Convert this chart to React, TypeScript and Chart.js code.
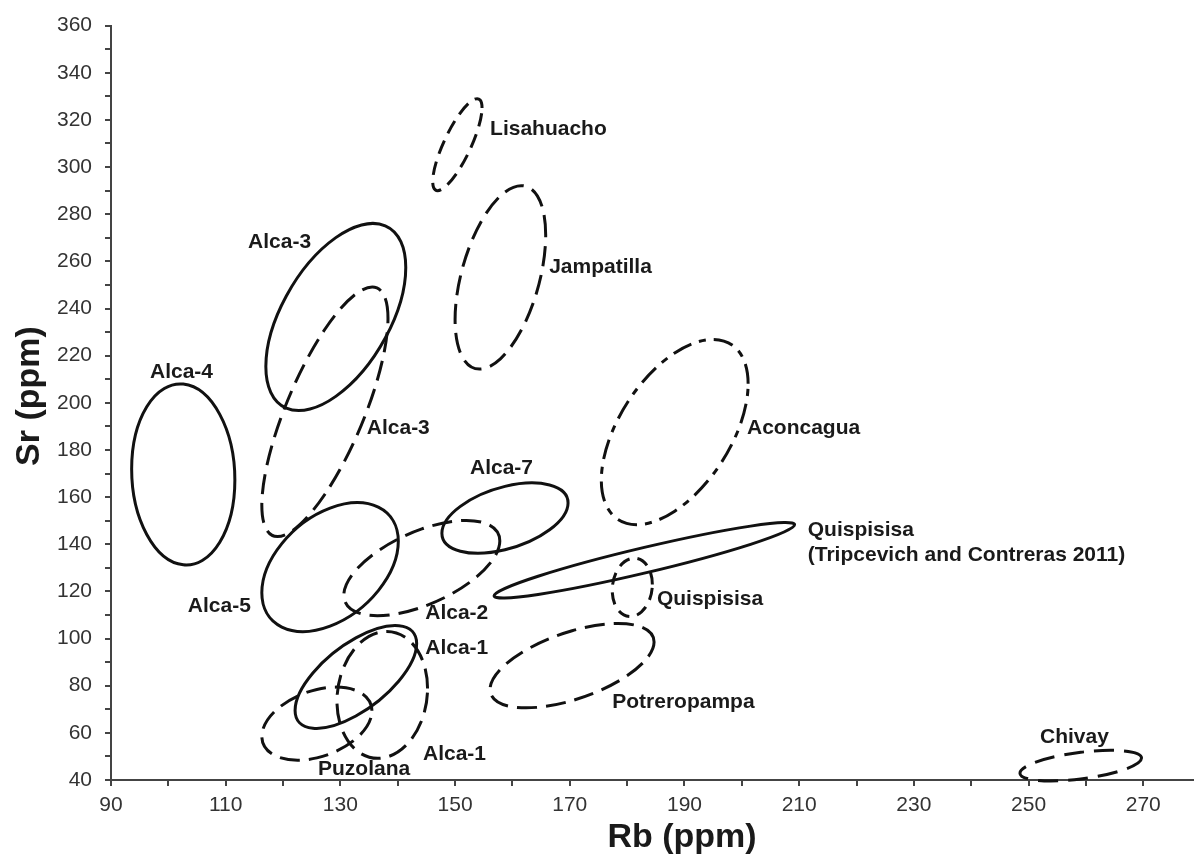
import React, { useEffect, useRef } from "react";
import { Chart, registerables } from "chart.js";

Chart.register(...registerables);

// ---- Ellipse data (Rb / Sr, ppm): centre, half-extent along each axis, correlation ----
const ellipseNames = [
  "Alca-4", "Alca-3 (solid)", "Alca-3 (dashed)", "Alca-5", "Alca-2", "Alca-7",
  "Quispisisa (T&C 2011)", "Quispisisa", "Potreropampa", "Alca-1 (solid)",
  "Alca-1 (dashed)", "Puzolana", "Lisahuacho", "Jampatilla", "Aconcagua", "Chivay",
];
const centerRb = [102.6, 129.2, 127.3, 128.2, 144.2, 158.7, 183.0, 180.9, 170.4, 132.7, 137.3, 125.9, 150.4, 157.9, 188.3, 259.1];
const centerSr = [169.6, 236.4, 196.2, 130.3, 129.9, 151.1, 133.2, 121.7, 88.5, 83.7, 76.1, 63.9, 309.5, 253.2, 187.6, 46.1];
const halfRb = [9.0, 12.2, 11.0, 11.9, 13.6, 11.0, 26.2, 3.5, 14.3, 10.6, 7.9, 9.6, 4.3, 7.9, 12.8, 10.6];
const halfSr = [38.4, 39.7, 52.9, 27.3, 20.2, 14.9, 16.0, 12.4, 17.9, 21.8, 26.9, 15.5, 19.5, 38.9, 39.3, 6.5];
const correlation = [-0.06, 0.53, 0.75, 0.4, 0.57, 0.43, 0.94, 0.1, 0.56, 0.65, 0.1, 0.35, 0.8, 0.46, 0.52, 0.49];

// line style per ellipse (kept separate from values)
const ellipseDash: number[][] = [
  [], [], [20, 9], [], [20, 9], [], [], [12, 8], [20, 9], [], [20, 9], [20, 9], [14, 8], [20, 9], [20, 8, 7, 8], [20, 10],
];

// ---- Labels ----
const labelText = [
  "Lisahuacho", "Jampatilla", "Alca-3", "Alca-4", "Alca-3", "Aconcagua", "Alca-7",
  "Quispisisa", "(Tripcevich and Contreras 2011)", "Alca-5", "Alca-2", "Quispisisa",
  "Alca-1", "Potreropampa", "Alca-1", "Puzolana", "Chivay",
];
const labelRb = [156.1, 166.4, 113.9, 96.8, 134.6, 200.9, 152.6, 211.5, 211.5, 103.4, 144.8, 185.2, 144.8, 177.4, 144.4, 126.1, 252.0];
const labelSr = [315.9, 257.6, 268.1, 213.0, 189.1, 189.1, 172.3, 145.8, 135.3, 113.9, 110.6, 116.9, 95.9, 73.2, 50.9, 44.6, 58.1];

// ---- Axes ----
const xMin = 90, xMax = 280, xStep = 10;
const yMin = 40, yMax = 360, yStep = 10;
const xTitle = "Rb (ppm)";
const yTitle = "Sr (ppm)";

const FONT = "'Liberation Sans', Arial, sans-serif";

const overlayPlugin = {
  id: "ellipsesAndLabels",
  afterDraw(chart: any) {
    const { ctx, scales } = chart;
    const xs = scales.x, ys = scales.y;
    ctx.save();
    // ellipses
    for (let i = 0; i < centerRb.length; i++) {
      const X0 = xs.getPixelForValue(centerRb[i]);
      const Y0 = ys.getPixelForValue(centerSr[i]);
      const RX = xs.getPixelForValue(centerRb[i] + halfRb[i]) - X0;
      const RY = Y0 - ys.getPixelForValue(centerSr[i] + halfSr[i]);
      const rho = correlation[i];
      const s = Math.sqrt(1 - rho * rho);
      ctx.beginPath();
      ctx.save();
      ctx.transform(RX, -RY * rho, 0, -RY * s, X0, Y0);
      ctx.arc(0, 0, 1, 0, Math.PI * 2);
      ctx.restore();
      ctx.setLineDash(ellipseDash[i]);
      ctx.lineWidth = 3;
      ctx.strokeStyle = "#111";
      ctx.stroke();
    }
    ctx.setLineDash([]);
    // labels
    ctx.fillStyle = "#1a1a1a";
    ctx.font = `bold 21px ${FONT}`;
    ctx.textAlign = "left";
    ctx.textBaseline = "middle";
    for (let i = 0; i < labelText.length; i++) {
      ctx.fillText(labelText[i], xs.getPixelForValue(labelRb[i]), ys.getPixelForValue(labelSr[i]));
    }
    // axis titles
    ctx.font = `bold 34px ${FONT}`;
    ctx.textAlign = "center";
    ctx.textBaseline = "alphabetic";
    ctx.fillText(xTitle, 682, 847);
    ctx.translate(39, 396);
    ctx.rotate(-Math.PI / 2);
    ctx.fillText(yTitle, 0, 0);
    ctx.restore();
  },
};

export default function App() {
  const ref = useRef<HTMLCanvasElement>(null);
  useEffect(() => {
    if (!ref.current) return;
    const chart = new Chart(ref.current, {
      type: "scatter",
      data: {
        datasets: [
          {
            label: "centres",
            data: centerRb.map((x, i) => ({ x, y: centerSr[i] })),
            pointRadius: 0,
            showLine: false,
          },
        ],
      },
      options: {
        responsive: false,
        animation: false,
        devicePixelRatio: 1,
        layout: { padding: { top: 18, right: 14.4, left: 0, bottom: 0 } },
        plugins: { legend: { display: false }, tooltip: { enabled: false } },
        scales: {
          x: {
            type: "linear",
            min: xMin,
            max: xMax,
            afterFit: (s: any) => { s.height = 77; },
            border: { display: true, color: "#444", width: 2 },
            grid: { drawOnChartArea: false, drawTicks: true, tickLength: 6, color: "#444", lineWidth: 2 },
            ticks: {
              stepSize: xStep,
              autoSkip: false,
              maxRotation: 0,
              padding: 7,
              color: "#333",
              font: { family: FONT, size: 21 },
              callback: (v: any) => (Number(v) % 20 === 10 ? String(v) : ""),
            },
          },
          y: {
            type: "linear",
            min: yMin,
            max: yMax,
            afterFit: (s: any) => { s.width = 111; },
            border: { display: true, color: "#444", width: 2 },
            grid: { drawOnChartArea: false, drawTicks: true, tickLength: 6, color: "#444", lineWidth: 2 },
            ticks: {
              stepSize: yStep,
              autoSkip: false,
              padding: 13,
              color: "#333",
              font: { family: FONT, size: 21 },
              callback: (v: any) => (Number(v) % 20 === 0 ? String(v) : ""),
            },
          },
        },
      },
      plugins: [overlayPlugin],
    });
    return () => chart.destroy();
  }, []);
  return (
    <div style={{ position: "fixed", left: 0, top: 0, width: 1194, height: 857, overflow: "hidden", background: "#fff" }}>
      <canvas ref={ref} width={1215} height={857} style={{ display: "block" }} />
    </div>
  );
}
